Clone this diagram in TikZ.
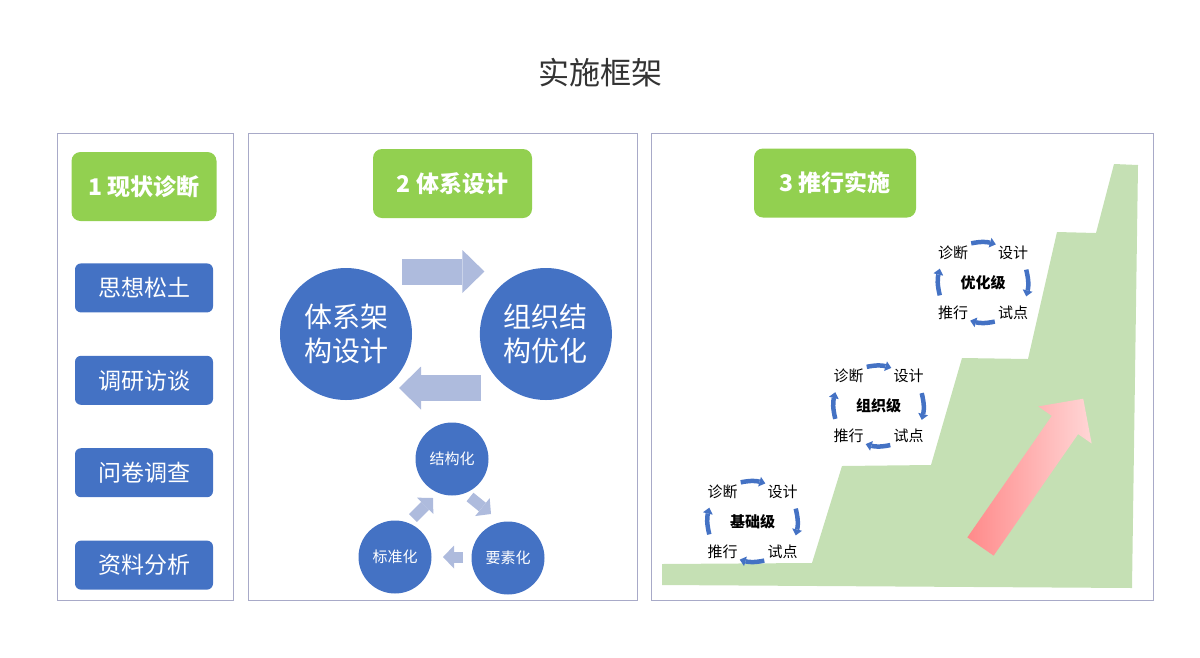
\documentclass[tikz,border=0pt]{standalone}
\usepackage{fontspec}
\setmainfont{Noto Sans CJK SC}
\usetikzlibrary{positioning,arrows.meta}
\definecolor{boxblue}{RGB}{68,114,196}
\definecolor{boxgreen}{RGB}{146,208,80}
\definecolor{stairgreen}{RGB}{197,224,180}
\definecolor{paleblue}{RGB}{174,187,221}
\definecolor{framegray}{RGB}{168,170,200}
\definecolor{titlegray}{RGB}{51,51,51}
\definecolor{pinkdark}{RGB}{255,138,138}
\definecolor{pinklight}{RGB}{255,214,214}
\newcommand{\setfs}[1]{\fontsize{#1}{#1}\selectfont}
% one improvement cycle: name, centre x, centre y, level
\newcommand{\levelcycle}[4]{%
  \node[cyclabel] (#1zd) at (#2-30,#3-30) {诊断};
  \node[cyclabel] (#1sj) at (#2+30,#3-30) {设计};
  \node[cyclabel] (#1sd) at (#2+30,#3+30) {试点};
  \node[cyclabel] (#1tx) at (#2-30,#3+30) {推行};
  \node[cyclevel] (#1lv) at (#2,#3) {#4};
  \draw[cycarrow] ([shift={(3,-2)}]#1zd.north east) to ([shift={(-2,-1)}]#1sj.north west);
  \draw[cycarrow] ([shift={(-2,10)}]#1sj.south east) to ([shift={(-2,-9)}]#1sd.north east);
  \draw[cycarrow] ([shift={(-3,2)}]#1sd.south west) to ([shift={(2,1)}]#1tx.south east);
  \draw[cycarrow] ([shift={(2,-10)}]#1tx.north west) to ([shift={(2,9)}]#1zd.south west);
}

\begin{document}
\begin{tikzpicture}[x=1pt,y=-1pt,
  panel/.style={draw=framegray,line width=1pt},
  headbox/.style={fill=boxgreen,rounded corners=9pt,text=white,font=\setfs{23}\bfseries,minimum height=69pt},
  itembox/.style={fill=boxblue,rounded corners=6pt,text=white,font=\setfs{23},minimum width=138pt,minimum height=49pt},
  bigcircle/.style={circle,fill=boxblue,text=white,minimum size=132pt,inner sep=0pt,align=center,font=\fontsize{28}{34}\selectfont},
  smallcircle/.style={circle,fill=boxblue,text=white,minimum size=73pt,inner sep=0pt,font=\setfs{15}},
  fatarrow/.style={draw=paleblue,line width=26pt,-{Triangle[width=43pt,length=22pt,line width=0pt]}},
  thinarrow/.style={draw=paleblue,line width=11pt,-{Triangle[width=23pt,length=11pt,line width=0pt]}},
  cyclabel/.style={inner sep=0pt,font=\setfs{15}},
  cyclevel/.style={inner sep=0pt,font=\setfs{15}\bfseries},
  cycarrow/.style={draw=boxblue,line width=4.5pt,-{Triangle[width=10pt,length=6pt,line width=0pt]},bend left=14}]
\useasboundingbox (0,0) rectangle (1200,657);

\node[text=titlegray,font=\setfs{31}] (title) at (600,73) {实施框架};

\draw[panel] (57,133) rectangle (233,600);
\draw[panel] (248,133) rectangle (637,600);
\draw[panel] (651,133) rectangle (1153,600);

% 1 diagnosis
\node[headbox,minimum width=145pt] (diag) at (144,186.5) {1 现状诊断};
\node[itembox,below=42pt of diag] (sxst) {思想松土};
\node[itembox,below=43pt of sxst] (dyft) {调研访谈};
\node[itembox,below=43pt of dyft] (wjdc) {问卷调查};
\node[itembox,below=43pt of wjdc] (zlfx) {资料分析};

% 2 system design
\node[headbox,minimum width=159pt] (design) at (452.5,183.5) {2 体系设计};
\node[bigcircle] (arch) at (346,334) {体系架\\构设计};
\node[bigcircle,right=67.5pt of arch] (org) {组织结\\构优化};
\draw[fatarrow] ([shift={(56,-62.5)}]arch.center) -- ([shift={(-61.5,-62.5)}]org.center);
\draw[fatarrow] ([shift={(-64.5,54)}]org.center) -- ([shift={(53,54)}]arch.center);

\node[smallcircle] (jgh) at (452,459) {结构化};
\node[smallcircle] (ysh) at (508,558) {要素化};
\node[smallcircle] (bzh) at (395,557) {标准化};
\draw[thinarrow] ([shift={(18,38)}]jgh.center) -- ([shift={(-17,-44)}]ysh.center);
\draw[thinarrow] ([shift={(-45,-1)}]ysh.center) -- ([shift={(48,0)}]bzh.center);
\draw[thinarrow] ([shift={(18,-39)}]bzh.center) -- ([shift={(-19,39)}]jgh.center);

% 3 rollout
\node[headbox,minimum width=162pt] (rollout) at (835,183) {3 推行实施};
\fill[stairgreen] (662,585) -- (662,564) -- (812,563) -- (842,466) -- (931,465) -- (962,358)
  -- (1028,359) -- (1057,232) -- (1096,233) -- (1114,164) -- (1138,165) -- (1132,588) -- cycle;
\begin{scope}[shift={(980.5,546.5)},rotate=55.2]
  \shade[left color=pinkdark,right color=pinklight] (0,-16) -- (148,-16) -- (148,-32.5)
    -- (180,0) -- (148,32.5) -- (148,16) -- (0,16) -- cycle;
\end{scope}

\levelcycle{jc}{752.5}{521.5}{基础级}
\levelcycle{zz}{878.5}{406}{组织级}
\levelcycle{yh}{983}{282.5}{优化级}
\end{tikzpicture}
\end{document}
